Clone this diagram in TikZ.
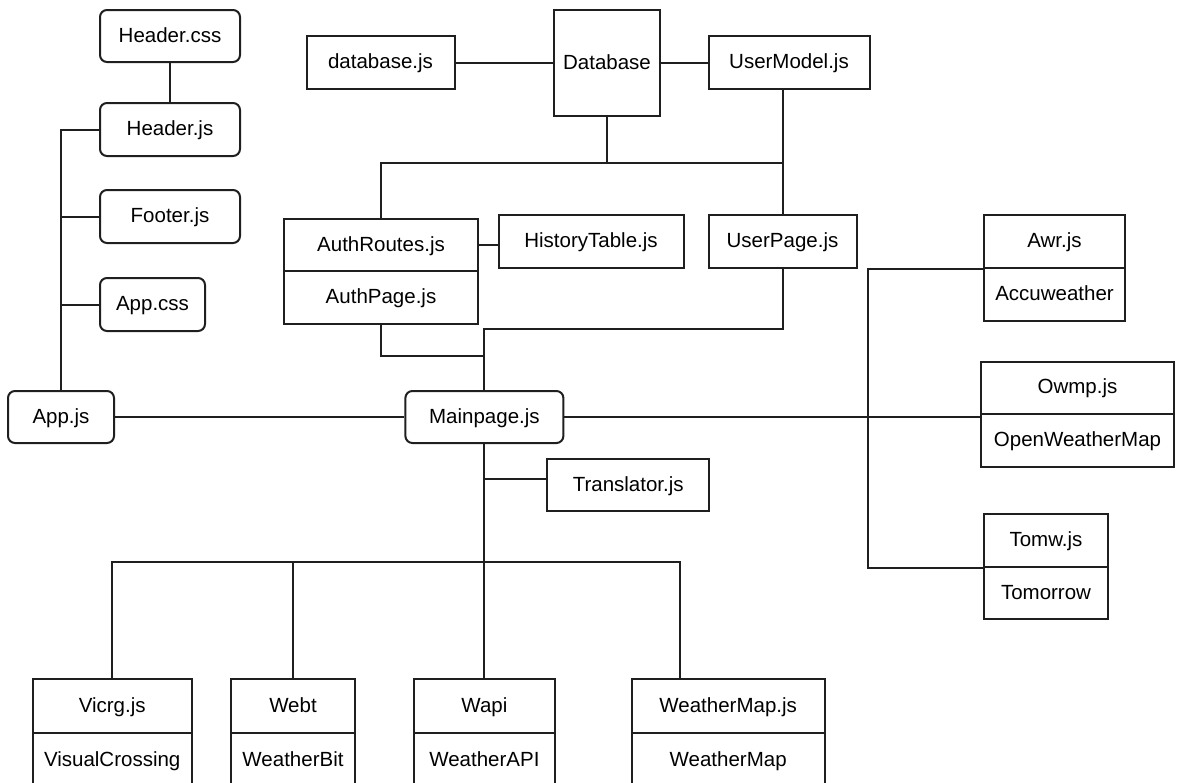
\documentclass[tikz,border=0pt]{standalone}
\usepackage{fontspec}
\setmainfont{Liberation Sans}
\begin{document}
\begin{tikzpicture}[x=1pt,y=-1pt,
  lw/.style={line width=2pt, draw=black!88},
  cell/.style={lw, rectangle, inner sep=0pt, text height=15pt, text depth=2.4pt,
    font=\fontsize{20.5}{24}\selectfont},
  rcell/.style={cell, rounded corners=7pt},
  conn/.style={lw}]
\useasboundingbox (0,0) rectangle (1178,782);
\clip (0,0) rectangle (1178,782);
% left column
\node[rcell, minimum width=140pt, minimum height=52pt] (headercss) at (170,36) {Header.css};
\node[rcell, minimum width=140pt, minimum height=53pt] (headerjs) at (170,129.5) {Header.js};
\node[rcell, minimum width=140pt, minimum height=53pt] (footer) at (170,216.5) {Footer.js};
\node[rcell, minimum width=105pt, minimum height=53pt] (appcss) at (152.5,304.5) {App.css};
\node[rcell, minimum width=106pt, minimum height=52pt] (appjs) at (61,417) {App.js};
\node[rcell, minimum width=158pt, minimum height=52pt] (mainpage) at (484.4,417) {Mainpage.js};
% top
\node[cell, minimum width=148pt, minimum height=53pt] (dbjs) at (380.5,62.5) {database.js};
\node[cell, minimum width=106pt, minimum height=106pt] (database) at (607,63) {Database};
\node[cell, minimum width=161pt, minimum height=53pt] (usermodel) at (789,62.5) {UserModel.js};
\node[cell, minimum width=194pt, minimum height=52pt] (authroutes) at (381,245) {AuthRoutes.js};
\node[cell, minimum width=194pt, minimum height=53pt] (authpage) at (381,297.5) {AuthPage.js};
\node[cell, minimum width=185pt, minimum height=53pt] (history) at (591,241.5) {HistoryTable.js};
\node[cell, minimum width=148pt, minimum height=53pt] (userpage) at (782.5,241.5) {UserPage.js};
% right
\node[cell, minimum width=141pt, minimum height=53pt] (awr) at (1054.5,241.5) {Awr.js};
\node[cell, minimum width=141pt, minimum height=53pt] (accu) at (1054.5,294.5) {Accuweather};
\node[cell, minimum width=193.6pt, minimum height=52pt] (owmp) at (1077.5,387.5) {Owmp.js};
\node[cell, minimum width=193.6pt, minimum height=53pt] (owm) at (1077.5,440) {OpenWeatherMap};
\node[cell, minimum width=124pt, minimum height=53pt] (tomw) at (1046,540) {Tomw.js};
\node[cell, minimum width=124pt, minimum height=52pt] (tomorrow) at (1046,593) {Tomorrow};
% translator
\node[cell, minimum width=162.4pt, minimum height=52pt] (translator) at (628.2,485) {Translator.js};
% bottom row
\node[cell, minimum width=159pt, minimum height=54pt] (vicrg) at (112.2,706.3) {Vicrg.js};
\node[cell, minimum width=159pt, minimum height=54pt] (visual) at (112.2,760.3) {VisualCrossing};
\node[cell, minimum width=123.4pt, minimum height=54pt] (webt) at (293,706.3) {Webt};
\node[cell, minimum width=123.4pt, minimum height=54pt] (wbit) at (293,760.3) {WeatherBit};
\node[cell, minimum width=140.8pt, minimum height=54pt] (wapi) at (484.4,706.3) {Wapi};
\node[cell, minimum width=140.8pt, minimum height=54pt] (wapi2) at (484.4,760.3) {WeatherAPI};
\node[cell, minimum width=193.2pt, minimum height=54pt] (wmapjs) at (728.2,706.3) {WeatherMap.js};
\node[cell, minimum width=193.2pt, minimum height=54pt] (wmap) at (728.2,760.3) {WeatherMap};
% coordinates
\coordinate (busR) at (782.5,162.7);
\coordinate (j1) at (484.4,329);
\coordinate (j2) at (484.4,355.7);
\coordinate (brk) at (868.3,417);
\coordinate (tb) at (484.4,479);
\coordinate (bus) at (484.4,561.7);
\coordinate (wmt) at (680.3,679.3);
% connectors left
\draw[conn] (headercss.south) -- (headerjs.north);
\draw[conn] (headerjs.west) -| (appjs.north);
\draw[conn] (footer.west) -- (footer.west -| appjs.north);
\draw[conn] (appcss.west) -- (appcss.west -| appjs.north);
\draw[conn] (appjs.east) -- (mainpage.west);
% connectors top
\draw[conn] (dbjs.east) -- (dbjs.east -| database.west);
\draw[conn] (database.east |- usermodel.west) -- (usermodel.west);
\draw[conn] (authroutes.north) |- (busR);
\draw[conn] (database.south) -- (database.south |- busR);
\draw[conn] (userpage.north |- usermodel.south) -- (userpage.north);
\draw[conn] (authroutes.east) -- (authroutes.east -| history.west);
\draw[conn] (userpage.south) |- (j1) -- (mainpage.north);
\draw[conn] (authpage.south) |- (j2);
% right
\draw[conn] (mainpage.east) -- (mainpage.east -| owmp.west);
\draw[conn] (awr.south west) -| (brk) |- (tomw.south west);
% bottom
\draw[conn] (mainpage.south) -- (wapi.north);
\draw[conn] (tb) -- (tb -| translator.west);
\draw[conn] (vicrg.north) -- (vicrg.north |- bus) -- (bus -| wmt) -- (wmt);
\draw[conn] (webt.north) -- (webt.north |- bus);
\end{tikzpicture}
\end{document}
